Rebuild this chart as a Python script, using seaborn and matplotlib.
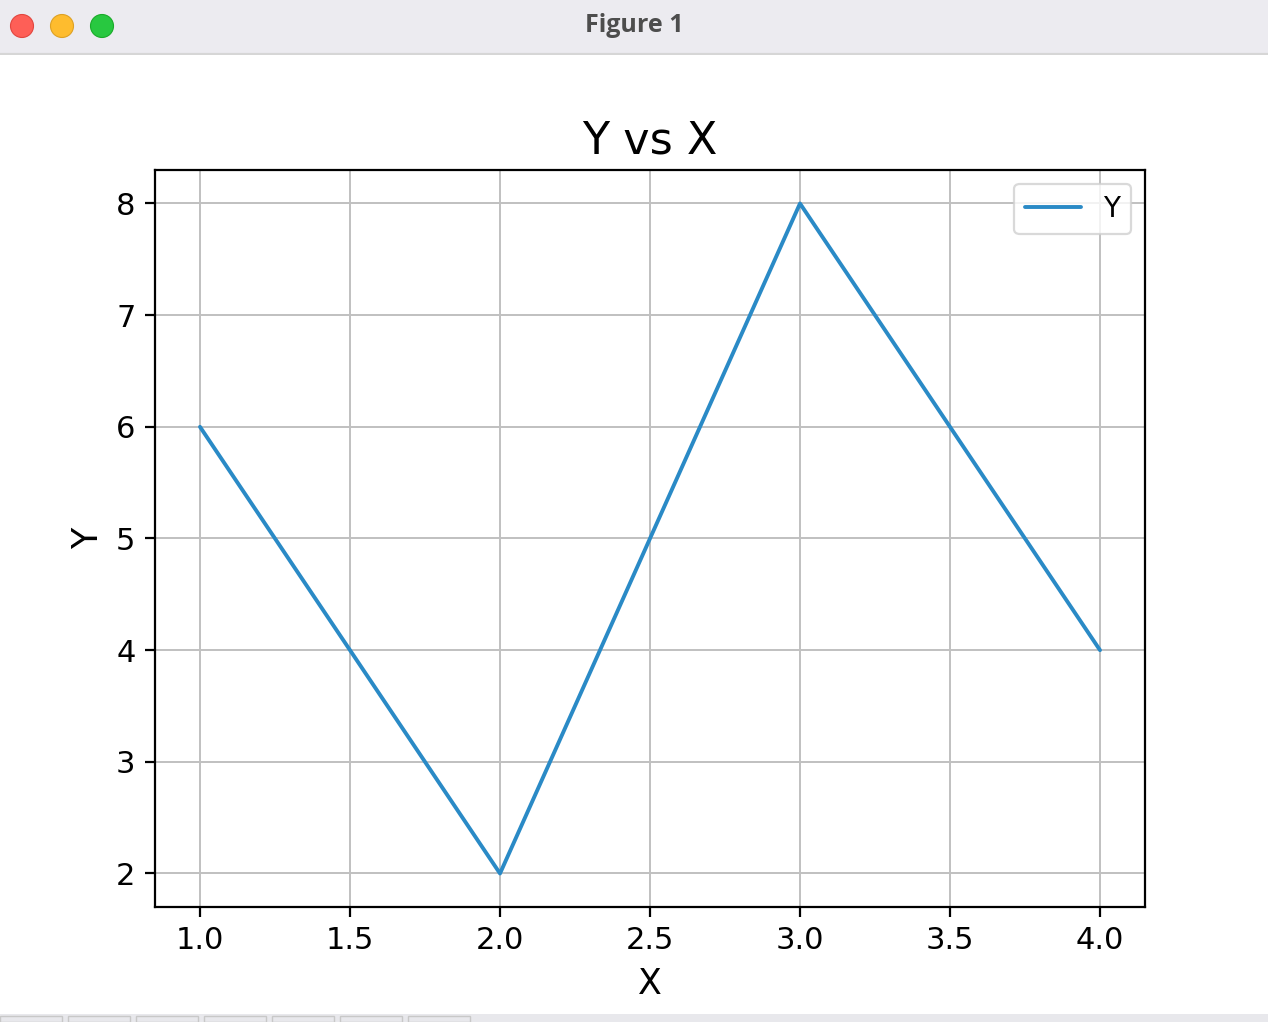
import matplotlib
matplotlib.use("Agg")
import matplotlib.pyplot as plt
import matplotlib.patches as mpatches
import pandas as pd
import seaborn as sns

# data
x_vals = [1, 2, 3, 4]
y_vals = [6, 2, 8, 4]

W, H = 1268, 1022
DPI = 200

sns.set_style("white")
plt.rcParams["font.family"] = ["DejaVu Sans"]
plt.rcParams["text.color"] = "black"
plt.rcParams["axes.labelcolor"] = "black"

df = pd.DataFrame({"X": x_vals, "Y": y_vals})

fig = plt.figure(figsize=(W / DPI, H / DPI), dpi=DPI)
fig.patch.set_facecolor("white")

# ---------------- WINDOW CHROME ----------------
bar = fig.add_axes([0, 1 - 55 / H, 1, 55 / H])
bar.set_xlim(0, W)
bar.set_ylim(55, 0)
bar.axis("off")
bar.add_patch(mpatches.Rectangle((0, 0), W, 55, color="#ecebf0"))
bar.axhline(54, color="#d6d6d6", lw=0.8)
for cx, fc, ec in [(22, "#fe5f57", "#e2463f"), (62, "#febc2e", "#dea123"), (102, "#28c840", "#1aab29")]:
    bar.add_patch(mpatches.Circle((cx, 26), 11.5, facecolor=fc, edgecolor=ec, lw=0.4))
bar.text(W / 2, 26, "Figure 1", ha="center", va="center", fontsize=9,
         fontweight="bold", color="#4d4d4d", family=["Open Sans", "DejaVu Sans"])

foot = fig.add_axes([0, 0, 1, 8 / H])
foot.set_xlim(0, W)
foot.set_ylim(0, 8)
foot.axis("off")
foot.add_patch(mpatches.Rectangle((0, 0), W, 8, color="#e8e8ec"))
for tx in range(0, 470, 68):
    foot.add_patch(mpatches.Rectangle((tx, 0), 62, 6, facecolor="none", edgecolor="#c8c8c8", lw=0.5))

# ---------------- LINE PLOT ----------------
ax = fig.add_axes([155 / W, 1 - 907 / H, (1145 - 155) / W, (907 - 170) / H])

sns.lineplot(data=df, x="X", y="Y", ax=ax, color="#2a8ac6", linewidth=1.4, label="Y")

ax.grid(True, color="#c0c0c0", linewidth=0.7)
ax.set_axisbelow(True)
for s in ax.spines.values():
    s.set_color("black")
    s.set_linewidth(0.8)
ax.tick_params(axis="both", which="both", direction="out", length=3.5, width=0.8,
               colors="black", labelcolor="black", labelsize=11, bottom=True, left=True)

ax.set_xlim(0.85, 4.15)
ax.set_ylim(1.7, 8.3)
ax.set_xticks([1.0, 1.5, 2.0, 2.5, 3.0, 3.5, 4.0])
ax.set_yticks([2, 3, 4, 5, 6, 7, 8])

ax.set_title("Y vs X", fontsize=16, pad=6, color="black", family=["DejaVu Sans"])
ax.set_xlabel("X", fontsize=12.5, color="black", family=["DejaVu Sans"])
ax.set_ylabel("Y", fontsize=12.5, color="black", family=["DejaVu Sans"])
for lbl in ax.get_xticklabels() + ax.get_yticklabels():
    lbl.set_family(["DejaVu Sans"])

leg = ax.legend(loc="upper right", fontsize=10, frameon=True, fancybox=True)
leg.get_frame().set_edgecolor("#d0d0d0")
leg.get_frame().set_linewidth(0.8)
for t in leg.get_texts():
    t.set_color("black")
    t.set_family(["DejaVu Sans"])

fig.savefig("out.png", dpi=DPI)
plt.close(fig)
